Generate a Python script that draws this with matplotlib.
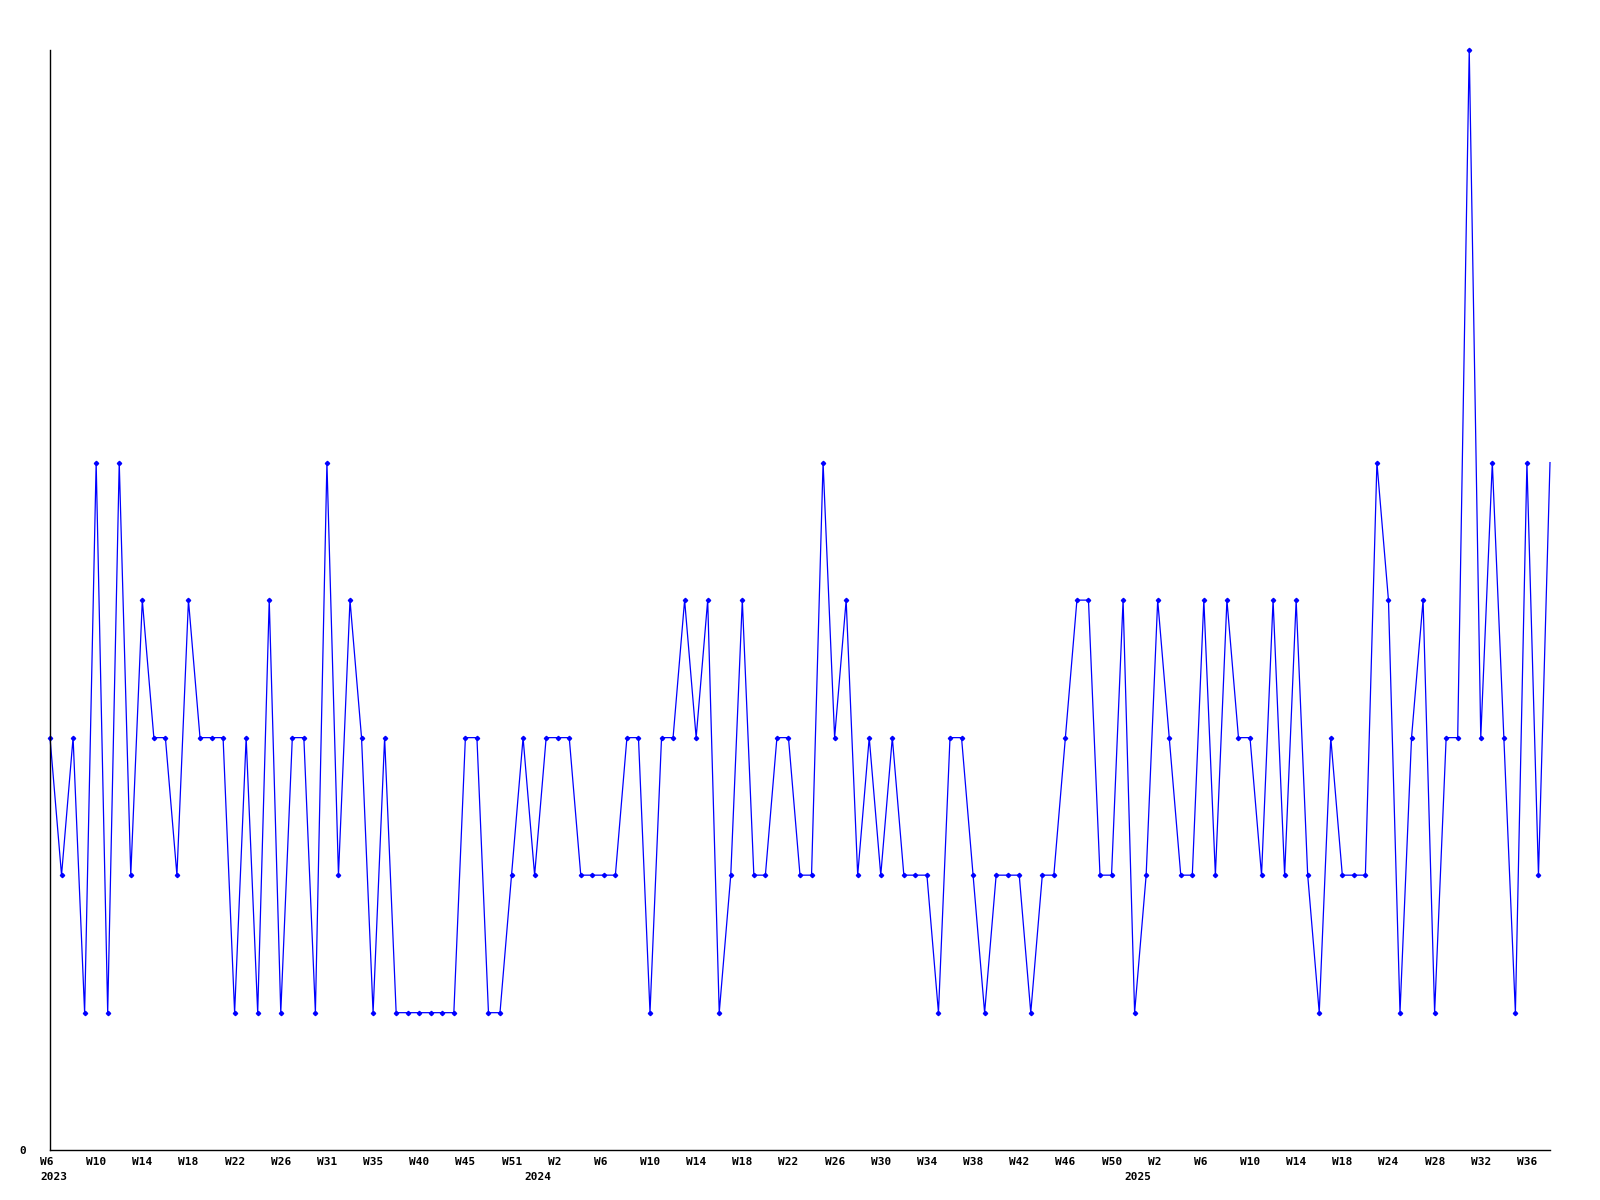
import matplotlib
matplotlib.use("Agg")
import matplotlib.pyplot as plt
from matplotlib.transforms import ScaledTranslation

# weekly counts, one value per plotted week (index order)
values = [
    3, 2, 3, 1, 5, 1, 5, 2, 4, 3,
    3, 2, 4, 3, 3, 3, 1, 3, 1, 4,
    1, 3, 3, 1, 5, 2, 4, 3, 1, 3,
    1, 1, 1, 1, 1, 1, 3, 3, 1, 1,
    2, 3, 2, 3, 3, 3, 2, 2, 2, 2,
    3, 3, 1, 3, 3, 4, 3, 4, 1, 2,
    4, 2, 2, 3, 3, 2, 2, 5, 3, 4,
    2, 3, 2, 3, 2, 2, 2, 1, 3, 3,
    2, 1, 2, 2, 2, 1, 2, 2, 3, 4,
    4, 2, 2, 4, 1, 2, 4, 3, 2, 2,
    4, 2, 4, 3, 3, 2, 4, 2, 4, 2,
    1, 3, 2, 2, 2, 5, 4, 1, 3, 4,
    1, 3, 3, 8, 3, 5, 3, 1, 5, 2, 5,
]

# week labels shown every 4th point
week_labels = [
    "W6", "W10", "W14", "W18", "W22", "W26", "W31", "W35", "W40", "W45", "W51",
    "W2", "W6", "W10", "W14", "W18", "W22", "W26", "W30", "W34", "W38", "W42",
    "W46", "W50", "W2", "W6", "W10", "W14", "W18", "W24", "W28", "W32", "W36",
]
week_ticks = list(range(0, 4 * len(week_labels), 4))

# year labels and the index of the first week of each year
years = ["2023", "2024", "2025"]
year_pos = [0, 42, 94]

x = list(range(len(values)))

fig = plt.figure(figsize=(16, 12), dpi=100)
ax = fig.add_axes([0.03125, 0.0415, 0.9375, 0.9168])

ax.plot(x, values, color="#0000ff", linewidth=0.9, marker="D", markersize=2.2,
        markevery=list(range(len(values) - 1)), clip_on=False)

ax.set_xlim(0, len(values) - 1)
ax.set_ylim(0, 8)

for side in ["top", "right"]:
    ax.spines[side].set_visible(False)
for side in ["left", "bottom"]:
    ax.spines[side].set_linewidth(1.0)
    ax.spines[side].set_color("black")

mono = {"family": "DejaVu Sans Mono", "weight": "bold", "size": 8}

ax.set_yticks([0])
ax.set_yticklabels(["0"], fontdict=mono)
ax.tick_params(axis="y", length=0, pad=17)

ax.set_xticks(week_ticks)
ax.set_xticklabels(week_labels, fontdict=mono)
ax.tick_params(axis="x", length=0, pad=5)
shift = ScaledTranslation(-10 / 100, 0, fig.dpi_scale_trans)
for lab in ax.get_xticklabels():
    lab.set_horizontalalignment("left")
    lab.set_transform(lab.get_transform() + shift)

year_shift = ax.get_xaxis_transform() + ScaledTranslation(-10 / 100, -22 / 100, fig.dpi_scale_trans)
for yr, pos in zip(years, year_pos):
    ax.text(pos, 0, yr, transform=year_shift, ha="left", va="top", fontdict=mono)

fig.savefig("out.png", dpi=100)
